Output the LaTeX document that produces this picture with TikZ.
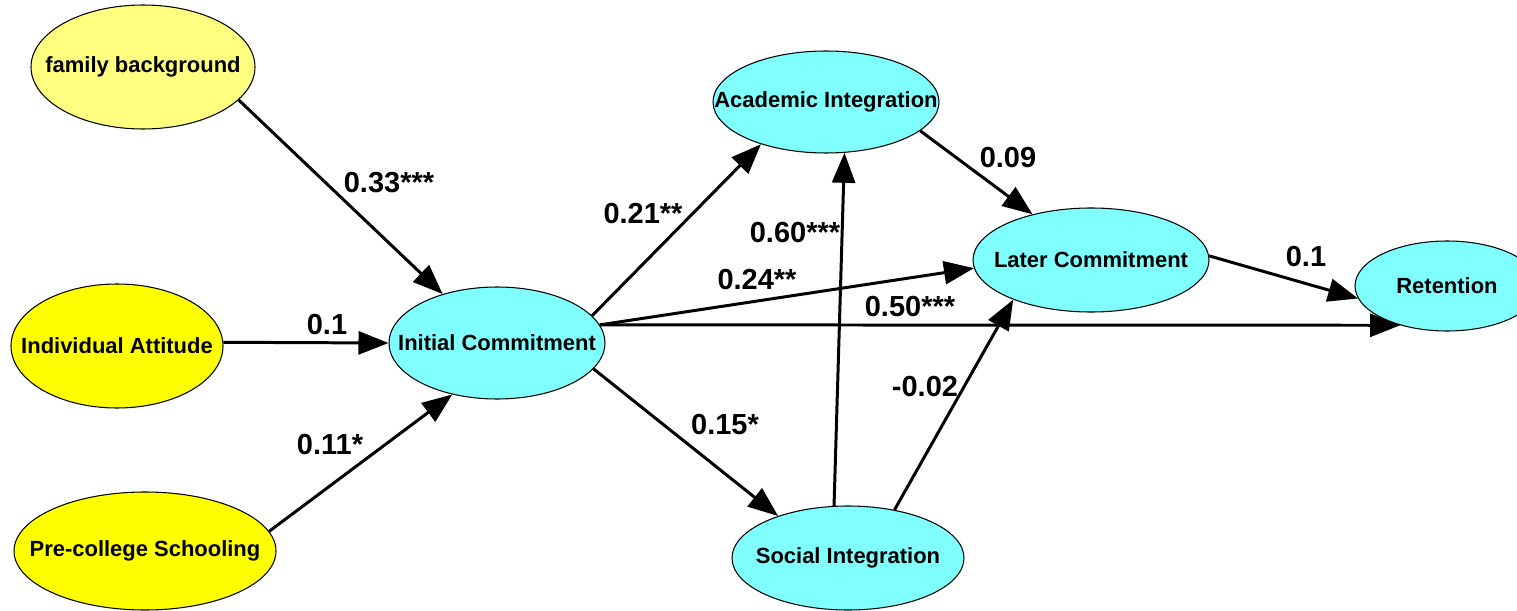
\documentclass[tikz,border=0pt]{standalone}
\usepackage{fontspec}
\setmainfont{Liberation Sans}
\usetikzlibrary{shapes.geometric,arrows.meta}
\definecolor{paleyellow}{HTML}{FFFF80}
\definecolor{brightyellow}{HTML}{FFFF00}
\definecolor{lightcyan}{HTML}{80FFFF}
% zero-width text so that the ellipse keeps its given size
\newcommand\flatlabel[1]{\makebox[0pt]{#1}}
\begin{document}
\begin{tikzpicture}[x=0.02cm,y=-0.02cm,
  construct/.style={ellipse,draw=black,line width=0.6pt,inner sep=0pt,
    font=\bfseries\fontsize{12.5}{14}\selectfont},
  path/.style={line width=1.7pt,-{Triangle[length=0.6cm,width=0.46cm]}},
  coef/.style={font=\bfseries\fontsize{16.5}{18}\selectfont,inner sep=0pt}]
\useasboundingbox (0,0) rectangle (1517,611);

% exogenous constructs
\node[construct,fill=paleyellow,minimum width=224*0.02cm,minimum height=124*0.02cm] (fam) at (143,67) {\flatlabel{family background}};
\node[construct,fill=brightyellow,minimum width=212*0.02cm,minimum height=124*0.02cm] (ind) at (117,346) {\flatlabel{Individual Attitude}};
\node[construct,fill=brightyellow,minimum width=262*0.02cm,minimum height=118*0.02cm] (pre) at (145,551) {\flatlabel{Pre-college Schooling}};

% endogenous constructs
\node[construct,fill=lightcyan,minimum width=216*0.02cm,minimum height=112*0.02cm] (ini) at (497,343) {\flatlabel{Initial Commitment}};
\node[construct,fill=lightcyan,minimum width=226*0.02cm,minimum height=102*0.02cm] (aca) at (826,102) {\flatlabel{Academic Integration}};
\node[construct,fill=lightcyan,minimum width=232*0.02cm,minimum height=104*0.02cm] (soc) at (848,558) {\flatlabel{Social Integration}};
\node[construct,fill=lightcyan,minimum width=236*0.02cm,minimum height=104*0.02cm] (lat) at (1091,260) {\flatlabel{Later Commitment}};
\node[construct,fill=lightcyan,minimum width=184*0.02cm,minimum height=90*0.02cm] (ret) at (1447,286) {\flatlabel{Retention}};

% paths
\draw[path] (fam.-19) -- (ini.138);
\draw[path] (ind.2) -- (ini.180);
\draw[path] (pre.9.5) -- (ini.229);
\draw[path] (ini.16) -- (aca.213);
\draw[path] (ini.-15) -- (soc.149.5);
\draw[path] (ini.10) -- (lat.184);
\draw[path] (ini.10) -- (ret.220);
\draw[path] (soc.105) -- (aca.290.7);
\draw[path] (soc.46.7) -- (lat.207);
\draw[path] (aca.-17.5) -- (lat.142);
\draw[path] (lat.2.4) -- (ret.188);

% path coefficients
\node[coef] (c1) at (389,183) {0.33***};
\node[coef] (c2) at (327,325) {0.1};
\node[coef] (c3) at (330,445) {0.11*};
\node[coef] (c4) at (643,214) {0.21**};
\node[coef] (c5) at (795,233) {0.60***};
\node[coef] (c6) at (757,280) {0.24**};
\node[coef] (c7) at (910,307) {0.50***};
\node[coef] (c8) at (725,425) {0.15*};
\node[coef] (c9) at (925,387) {-0.02};
\node[coef] (c10) at (1008,158) {0.09};
\node[coef] (c11) at (1306,257) {0.1};
\end{tikzpicture}
\end{document}
